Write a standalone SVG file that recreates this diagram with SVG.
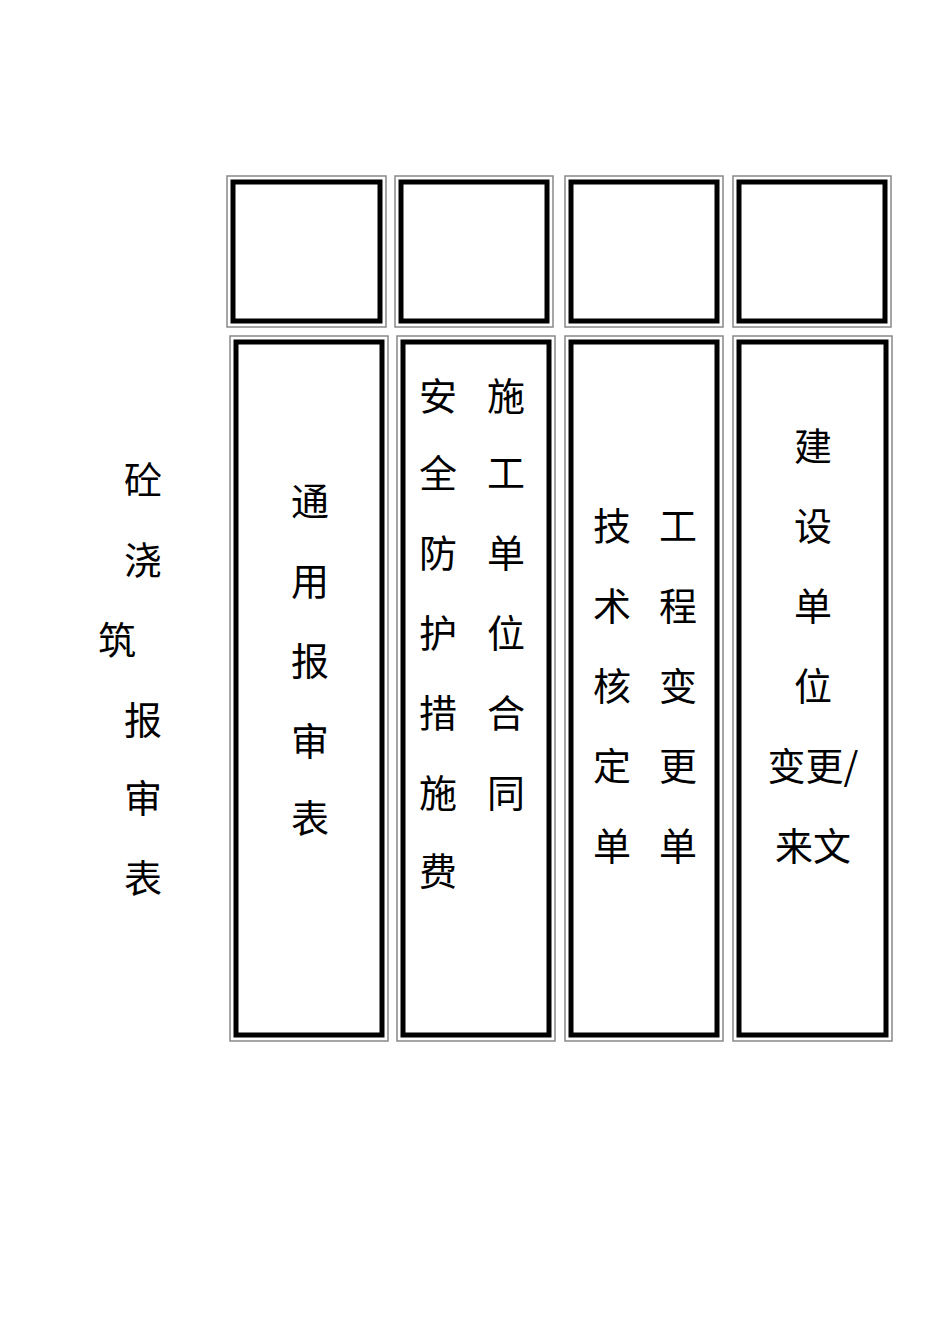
<svg xmlns="http://www.w3.org/2000/svg" width="950" height="1344" viewBox="0 0 950 1344">
<style>
.o{fill:none;stroke:#888;stroke-width:1.5}
.i{fill:#fff;stroke:#000;stroke-width:5}
text{font-family:"Noto Sans CJK SC",sans-serif;font-size:38px;fill:#000;text-anchor:middle;dominant-baseline:central}
</style>
<defs><clipPath id="c"><rect x="0" y="0" width="162" height="1344"/></clipPath></defs>
<rect width="950" height="1344" fill="#fff"/>
<g id="title" clip-path="url(#c)">
<text x="143" y="477">砼</text><text x="143" y="557">浇</text><text x="117" y="637">筑</text>
<text x="143" y="717">报</text><text x="143" y="795">审</text><text x="143" y="875">表</text>
</g>
<g id="t1"><rect class="o" x="227" y="176" width="159" height="151"/><rect class="i" x="233" y="182" width="147" height="139"/></g>
<g id="t2"><rect class="o" x="395" y="176" width="158" height="151"/><rect class="i" x="401" y="182" width="146" height="139"/></g>
<g id="t3"><rect class="o" x="565" y="176" width="158" height="151"/><rect class="i" x="571" y="182" width="146" height="139"/></g>
<g id="t4"><rect class="o" x="733" y="176" width="158" height="151"/><rect class="i" x="739" y="182" width="146" height="139"/></g>
<g id="b1"><rect class="o" x="230" y="336" width="158" height="705"/><rect class="i" x="236" y="342" width="146" height="693"/>
<text x="310" y="498">通</text><text x="310" y="578">用</text><text x="310" y="658">报</text><text x="310" y="738">审</text><text x="310" y="815">表</text></g>
<g id="b2"><rect class="o" x="397" y="336" width="158" height="705"/><rect class="i" x="403" y="342" width="146" height="693"/>
<text x="506" y="393">施</text><text x="506" y="470">工</text><text x="506" y="550">单</text><text x="506" y="630">位</text><text x="506" y="710">合</text><text x="506" y="790">同</text>
<text x="438" y="393">安</text><text x="438" y="470">全</text><text x="438" y="550">防</text><text x="438" y="630">护</text><text x="438" y="710">措</text><text x="438" y="790">施</text><text x="438" y="868">费</text></g>
<g id="b3"><rect class="o" x="565" y="336" width="158" height="705"/><rect class="i" x="571" y="342" width="146" height="693"/>
<text x="678" y="523">工</text><text x="678" y="603">程</text><text x="678" y="683">变</text><text x="678" y="763">更</text><text x="678" y="843">单</text>
<text x="612" y="523">技</text><text x="612" y="603">术</text><text x="612" y="683">核</text><text x="612" y="763">定</text><text x="612" y="843">单</text></g>
<g id="b4"><rect class="o" x="733" y="336" width="159" height="705"/><rect class="i" x="739" y="342" width="147" height="693"/>
<text x="813" y="443">建</text><text x="813" y="523">设</text><text x="813" y="603">单</text><text x="813" y="683">位</text><text x="813" y="763">变更/</text><text x="813" y="843">来文</text></g>
<g id="connectors"/>
</svg>
